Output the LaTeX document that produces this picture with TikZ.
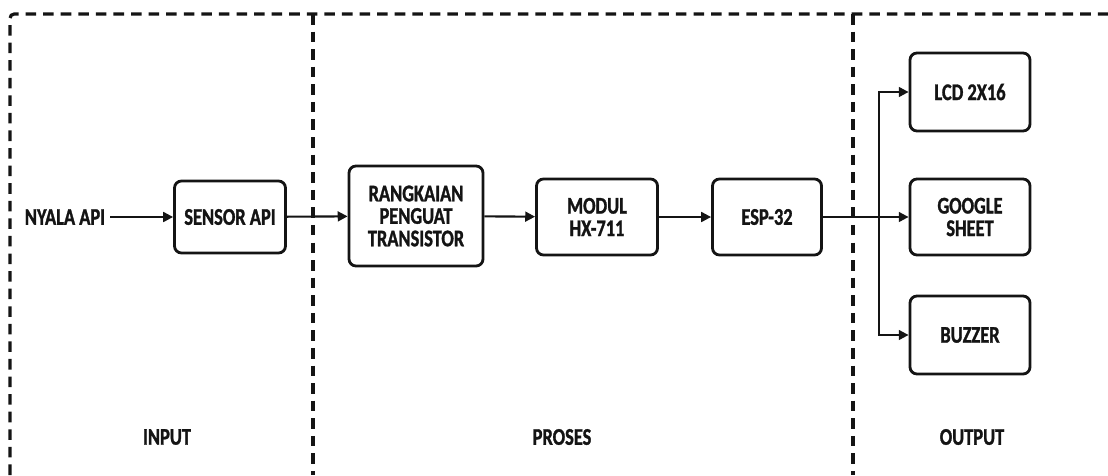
\documentclass[tikz,border=0pt]{standalone}
\usepackage{fontspec}
\setmainfont[FakeStretch=0.77,BoldFeatures={FakeBold=1.2}]{Carlito}
\usetikzlibrary{arrows.meta,positioning,calc}
\definecolor{inkblack}{HTML}{141414}

\begin{document}
\begin{tikzpicture}[x=0.025cm,y=-0.025cm,
  every node/.style={font=\bfseries\fontsize{17}{16}\selectfont,align=center,text=inkblack},
  blok/.style={draw=inkblack,line width=2pt,rounded corners=5pt,inner sep=2pt},
  panah/.style={draw=inkblack,line width=1.5pt,-{Triangle[length=7pt,width=7pt]}},
  batas/.style={draw=inkblack,line width=2.3pt,dash pattern=on 7.5pt off 5pt}]
  \useasboundingbox (0,0) rectangle (1108,475);

  % area batas
  \draw[batas,rounded corners=3pt] (10,475) -- (10,14) -- (1108,14);
  \draw[batas] (313,14) -- (313,475);
  \draw[batas] (853,14) -- (853,475);

  % blok
  \node (api) at (65,217) {NYALA API};
  \node[blok,minimum width=2.775cm,minimum height=1.8cm] (sensor) at (230,217) {SENSOR API};
  \node[blok,minimum width=3.35cm,minimum height=2.5cm] (penguat) at (416,216) {RANGKAIAN\\PENGUAT\\TRANSISTOR};
  \node[blok,minimum width=3.025cm,minimum height=1.9cm] (hx) at (597,217) {MODUL\\HX-711};
  \node[blok,minimum width=2.725cm,minimum height=1.9cm] (esp) at (767,217) {ESP-32};
  \node[blok,minimum width=3cm,minimum height=1.95cm] (lcd) at (970,92) {LCD 2X16};
  \node[blok,minimum width=3cm,minimum height=1.9cm] (sheet) at (970,217) {GOOGLE\\SHEET};
  \node[blok,minimum width=3cm,minimum height=1.95cm] (buzzer) at (970,335) {BUZZER};

  % label area
  \node (input) at (167,437) {INPUT};
  \node (proses) at (562,437) {PROSES};
  \node (output) at (972,437) {OUTPUT};

  % panah
  \draw[panah] (api) -- (sensor);
  \draw[panah] (sensor) -- (penguat);
  \draw[panah] (penguat) -- (hx);
  \draw[panah] (hx) -- (esp);
  \draw[panah] (esp) -- (sheet);
  \coordinate (cabang) at (879,217);
  \draw[panah] (cabang) |- (lcd);
  \draw[panah] (cabang) |- (buzzer);
\end{tikzpicture}
\end{document}
